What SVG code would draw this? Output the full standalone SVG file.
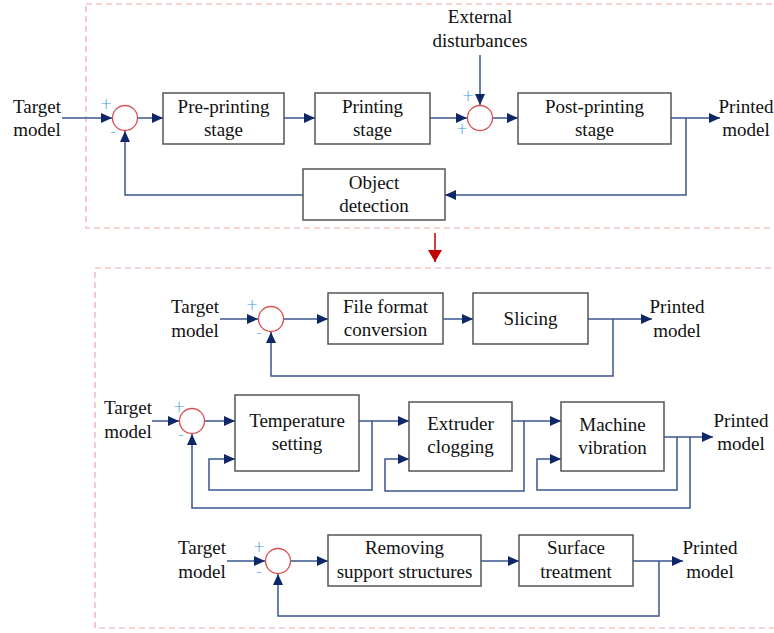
<svg xmlns="http://www.w3.org/2000/svg" width="774" height="633" viewBox="0 0 774 633">
<defs>
<marker id="ah" markerUnits="userSpaceOnUse" markerWidth="11" markerHeight="10" refX="11" refY="5" orient="auto">
<path d="M0,0 L11,5 L0,10 z" fill="#0e2766"/>
</marker>
<marker id="rh" markerUnits="userSpaceOnUse" markerWidth="12" markerHeight="14" refX="12" refY="7" orient="auto">
<path d="M0,0 L12,7 L0,14 z" fill="#c00000"/>
</marker>
<style>
.frame{fill:none;stroke:#f2a8a8;stroke-width:1.2;stroke-dasharray:6,4}
.box{fill:#fff;stroke:#555;stroke-width:1.5}
.sum{fill:#fff;stroke:#d9504f;stroke-width:1.3}
.c{fill:none;stroke:#3a568f;stroke-width:1.5}
.a{marker-end:url(#ah)}
.t{font-family:'Liberation Serif','DejaVu Serif',serif;font-size:19px;fill:#111}
.m{text-anchor:middle}
.s{font-family:'DejaVu Sans',sans-serif;font-size:15px;font-weight:200;fill:#3c9be6;text-anchor:middle}
</style>
</defs>
<rect class="frame" x="86" y="4" width="710" height="224"/>
<rect class="frame" x="95" y="268" width="700" height="360"/>

<g id="connectors">
<line x1="435" y1="233" x2="435" y2="262" stroke="#c00000" stroke-width="1.5" marker-end="url(#rh)"/>
<line class="c a" x1="62" y1="118" x2="112" y2="118"/>
<line class="c a" x1="138" y1="118" x2="163" y2="118"/>
<line class="c a" x1="284" y1="118" x2="315" y2="118"/>
<line class="c a" x1="430" y1="118" x2="467" y2="118"/>
<line class="c a" x1="480" y1="55" x2="480" y2="105"/>
<line class="c a" x1="493" y1="118" x2="518" y2="118"/>
<line class="c a" x1="671" y1="118" x2="720" y2="118"/>
<polyline class="c a" points="686,118 686,195 445,195"/>
<polyline class="c a" points="303,195 125,195 125,131"/>
<line class="c a" x1="220" y1="319" x2="258" y2="319"/>
<line class="c a" x1="284" y1="319" x2="328" y2="319"/>
<line class="c a" x1="443" y1="319" x2="473" y2="319"/>
<line class="c a" x1="588" y1="319" x2="652" y2="319"/>
<polyline class="c a" points="613,319 613,376 271,376 271,332"/>
<line class="c a" x1="152" y1="421" x2="179" y2="421"/>
<line class="c a" x1="205" y1="421" x2="235" y2="421"/>
<line class="c a" x1="359" y1="421" x2="409" y2="421"/>
<polyline class="c a" points="372,421 372,490 209,490 209,459 235,459"/>
<line class="c a" x1="512" y1="421" x2="561" y2="421"/>
<polyline class="c a" points="524,421 524,491 385,491 385,459 409,459"/>
<line class="c a" x1="664" y1="437" x2="713" y2="437"/>
<polyline class="c a" points="677,437 677,490 537,490 537,459 561,459"/>
<polyline class="c a" points="690,437 690,508 192,508 192,434"/>
<line class="c a" x1="227" y1="561" x2="265" y2="561"/>
<line class="c a" x1="291" y1="561" x2="328" y2="561"/>
<line class="c a" x1="481" y1="561" x2="519" y2="561"/>
<line class="c a" x1="633" y1="561" x2="683" y2="561"/>
<polyline class="c a" points="659,561 659,616 278,616 278,574"/>
</g>

<g id="t-target"><text class="t m" x="37" y="113">Target</text><text class="t m" x="37" y="136">model</text></g>
<g id="t-sum1"><circle class="sum" cx="125" cy="118" r="12.5"/><text class="s" x="106" y="109">+</text><text class="s" x="113" y="137">-</text></g>
<g id="t-pre"><rect class="box" x="163" y="93" width="121" height="51"/><text class="t m" x="223.5" y="113">Pre-printing</text><text class="t m" x="223.5" y="136">stage</text></g>
<g id="t-print"><rect class="box" x="315" y="93" width="115" height="51"/><text class="t m" x="372.5" y="113">Printing</text><text class="t m" x="372.5" y="136">stage</text></g>
<g id="t-ext"><text class="t m" x="480" y="23">External</text><text class="t m" x="480" y="47">disturbances</text></g>
<g id="t-sum2"><circle class="sum" cx="480" cy="118" r="12.5"/><text class="s" x="468" y="101">+</text><text class="s" x="462" y="134">+</text></g>
<g id="t-post"><rect class="box" x="518" y="93" width="153" height="51"/><text class="t m" x="594.5" y="113">Post-printing</text><text class="t m" x="594.5" y="136">stage</text></g>
<g id="t-out"><text class="t m" x="746" y="113">Printed</text><text class="t m" x="746" y="136">model</text></g>
<g id="t-det"><rect class="box" x="303" y="169" width="142" height="51"/><text class="t m" x="374" y="189">Object</text><text class="t m" x="374" y="212">detection</text></g>

<g id="r2-target"><text class="t m" x="195" y="313">Target</text><text class="t m" x="195" y="337">model</text></g>
<g id="r2-sum"><circle class="sum" cx="271" cy="319" r="12.5"/><text class="s" x="252" y="310">+</text><text class="s" x="259" y="338">-</text></g>
<g id="r2-file"><rect class="box" x="328" y="293" width="115" height="51"/><text class="t m" x="385.5" y="313">File format</text><text class="t m" x="385.5" y="336">conversion</text></g>
<g id="r2-slice"><rect class="box" x="473" y="293" width="115" height="51"/><text class="t m" x="530.5" y="325">Slicing</text></g>
<g id="r2-out"><text class="t m" x="677" y="313">Printed</text><text class="t m" x="677" y="337">model</text></g>

<g id="r3-target"><text class="t m" x="128" y="414">Target</text><text class="t m" x="128" y="438">model</text></g>
<g id="r3-sum"><circle class="sum" cx="192" cy="421" r="12.5"/><text class="s" x="179" y="412">+</text><text class="s" x="181" y="440">-</text></g>
<g id="r3-temp"><rect class="box" x="235" y="395" width="124" height="76"/><text class="t m" x="297" y="427">Temperature</text><text class="t m" x="297" y="450">setting</text></g>
<g id="r3-ext"><rect class="box" x="409" y="402" width="103" height="69"/><text class="t m" x="460.5" y="430">Extruder</text><text class="t m" x="460.5" y="453">clogging</text></g>
<g id="r3-mach"><rect class="box" x="561" y="402" width="103" height="69"/><text class="t m" x="612.5" y="431">Machine</text><text class="t m" x="612.5" y="454">vibration</text></g>
<g id="r3-out"><text class="t m" x="741" y="427">Printed</text><text class="t m" x="741" y="450">model</text></g>

<g id="r4-target"><text class="t m" x="202" y="554">Target</text><text class="t m" x="202" y="578">model</text></g>
<g id="r4-sum"><circle class="sum" cx="278" cy="561" r="12.5"/><text class="s" x="259" y="552">+</text><text class="s" x="259" y="577">-</text></g>
<g id="r4-rem"><rect class="box" x="328" y="535" width="153" height="51"/><text class="t m" x="404.5" y="554">Removing</text><text class="t m" x="404.5" y="578">support structures</text></g>
<g id="r4-surf"><rect class="box" x="519" y="535" width="114" height="51"/><text class="t m" x="576" y="554">Surface</text><text class="t m" x="576" y="578">treatment</text></g>
<g id="r4-out"><text class="t m" x="710" y="554">Printed</text><text class="t m" x="710" y="578">model</text></g>
</svg>
